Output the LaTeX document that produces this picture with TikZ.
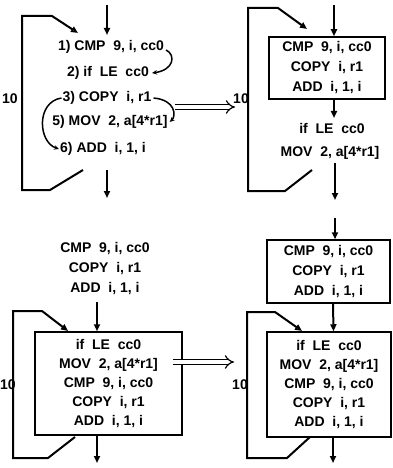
\documentclass[tikz,border=0pt]{standalone}
\usepackage{fontspec}
\setmainfont{Liberation Sans}
\usetikzlibrary{arrows.meta}
\begin{document}
\begin{tikzpicture}[x=1pt,y=-1pt,
  txt/.style={font=\fontsize{14}{19}\selectfont\bfseries, inner sep=0pt, align=center},
  boxa/.style={draw, line width=1.5pt, inner sep=0pt, align=center, font=\fontsize{14}{20}\selectfont\bfseries},
  boxb/.style={draw, line width=1.5pt, inner sep=0pt, align=center, font=\fontsize{14}{19}\selectfont\bfseries},
  loopl/.style={line width=2pt, line join=miter},
  arr/.style={line width=2pt, -{Triangle[length=7pt,width=6pt]}},
  oarr/.style={line width=1.8pt, -{Triangle[open,length=7pt,width=6pt]}},
  curv/.style={line width=1.5pt, -{Stealth[length=5pt,width=4.5pt]}},
  dbl/.style={double, double distance=3.5pt, line width=1.2pt, -{Implies}},
  lab/.style={font=\fontsize{14}{15}\selectfont\bfseries, inner sep=0pt}
]
\useasboundingbox (0,0) rectangle (393,468);

% ---------- panel 1 ----------
\node[txt] (p1a) at (111,47) {1) CMP\ \ 9, i, cc0};
\node[txt] (p1b) at (108,73) {2) if\ \ LE\ \ cc0};
\node[txt] (p1c) at (107,98) {3) COPY\ \ i, r1};
\node[txt] (p1d) at (110,122) {5) MOV\ \ 2, a[4*r1]};
\node[txt] (p1e) at (103,149) {6) ADD\ \ i, 1, i};
\node[lab] (p1n) at (10,99) {10};
\coordinate (p1t0) at (107,5);
\coordinate (p1t1) at (107,35);
\draw[arr] (p1t0) -- (p1t1);
\coordinate (p1b0) at (107,170);
\coordinate (p1b1) at (107,198);
\draw[oarr] (p1b0) -- (p1b1);
\coordinate (p1l0) at (83,170);
\coordinate (p1l1) at (50,190);
\coordinate (p1l2) at (22,190);
\coordinate (p1l3) at (22,16);
\coordinate (p1l4) at (52,16);
\coordinate (p1l5) at (78,33);
\draw[loopl, -{Triangle[open,length=7pt,width=6pt]}] (p1l0) -- (p1l1) -- (p1l2) -- (p1l3) -- (p1l4) -- (p1l5);
\draw[curv] ([xshift=2pt,yshift=-3pt]p1a.east) .. controls (176,55) and (174,70) .. ([xshift=3pt]p1b.east);
\draw[curv] ([xshift=2pt]p1c.east) .. controls (176,100) and (176,116) .. ([xshift=2pt]p1d.east);
\draw[curv] ([xshift=-1pt]p1c.west) .. controls (36,102) and (38,142) .. ([xshift=-1pt]p1e.west);

\node (d1a) at (175,107) {};
\node (d1b) at (235,107) {};
\draw[dbl] (d1a.center) -- (d1b.center);

% ---------- panel 2 ----------
\node[boxa, minimum width=116pt, minimum height=62pt] (b2) at (327,68)
  {CMP\ \ 9, i, cc0\\COPY\ \ i, r1\\ADD\ \ i, 1, i};
\node[txt] (p2if) at (332,128) {if\ \ LE\ \ cc0};
\node[txt] (p2mov) at (330,153) {MOV\ \ 2, a[4*r1]};
\node[lab] (p2n) at (241,99) {10};
\coordinate (p2t0) at (334,5);
\draw[arr] (p2t0) -- (p2t0 |- b2.north);
\draw[arr] ([xshift=7pt]b2.south) -- (334,118);
\coordinate (p2b0) at (335,163);
\coordinate (p2b1) at (335,200);
\draw[arr] (p2b0) -- (p2b1);
\coordinate (p2l0) at (312,170);
\coordinate (p2l1) at (285,191);
\coordinate (p2l2) at (248,191);
\coordinate (p2l3) at (248,8);
\coordinate (p2l4) at (278,8);
\coordinate (p2l5) at (307,29);
\draw[loopl, -{Triangle[length=7pt,width=6pt]}] (p2l0) -- (p2l1) -- (p2l2) -- (p2l3) -- (p2l4) -- (p2l5);

% ---------- panel 3 ----------
\node[txt] (p3pre) at (105,269) {CMP\ \ 9, i, cc0\\[1pt]COPY\ \ i, r1\\[1pt]ADD\ \ i, 1, i};
\node[boxb, minimum width=147pt, minimum height=103pt] (b3) at (108.5,383.5)
  {if\ \ LE\ \ cc0\\MOV\ \ 2, a[4*r1]\\CMP\ \ 9, i, cc0\\COPY\ \ i, r1\\ADD\ \ i, 1, i};
\node[lab] (p3n) at (8,385) {10};
\coordinate (p3t0) at (97,302);
\draw[arr] (p3t0) -- (p3t0 |- b3.north);
\coordinate (p3b0) at (97,435);
\coordinate (p3b1) at (97,463);
\draw[arr] (p3b0) -- (p3b1);
\coordinate (p3l0) at (75,437);
\coordinate (p3l1) at (48,458);
\coordinate (p3l2) at (13,458);
\coordinate (p3l3) at (13,311);
\coordinate (p3l4) at (42,311);
\coordinate (p3l5) at (68,331);
\draw[loopl, -{Triangle[length=7pt,width=6pt]}] (p3l0) -- (p3l1) -- (p3l2) -- (p3l3) -- (p3l4) -- (p3l5);

\node (d2a) at (173,362) {};
\node (d2b) at (234,362) {};
\draw[dbl] (d2a.center) -- (d2b.center);

% ---------- panel 4 ----------
\node[boxa, minimum width=123pt, minimum height=63pt] (b4a) at (328.5,271.5)
  {CMP\ \ 9, i, cc0\\COPY\ \ i, r1\\ADD\ \ i, 1, i};
\node[boxb, minimum width=124pt, minimum height=105pt] (b4b) at (329,384.5)
  {if\ \ LE\ \ cc0\\MOV\ \ 2, a[4*r1]\\CMP\ \ 9, i, cc0\\COPY\ \ i, r1\\ADD\ \ i, 1, i};
\node[lab] (p4n) at (240,385) {10};
\coordinate (p4t0) at (335,218);
\draw[oarr] (p4t0) -- (p4t0 |- b4a.north);
\draw[arr] ([xshift=4.5pt]b4a.south) -- ([xshift=4.5pt]b4b.north);
\coordinate (p4b0) at (333,437);
\coordinate (p4b1) at (333,463);
\draw[arr] (p4b0) -- (p4b1);
\coordinate (p4l0) at (310,437);
\coordinate (p4l1) at (287,458);
\coordinate (p4l2) at (247,458);
\coordinate (p4l3) at (247,312);
\coordinate (p4l4) at (275,312);
\coordinate (p4l5) at (302,331);
\draw[loopl, -{Triangle[open,length=7pt,width=6pt]}] (p4l0) -- (p4l1) -- (p4l2) -- (p4l3) -- (p4l4) -- (p4l5);
\end{tikzpicture}
\end{document}
